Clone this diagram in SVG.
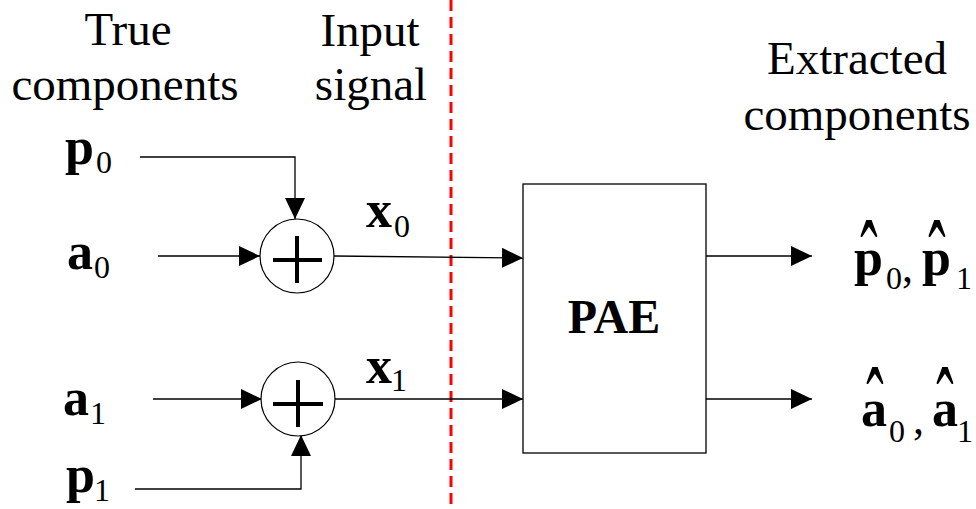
<svg xmlns="http://www.w3.org/2000/svg" width="976" height="509" viewBox="0 0 976 509" font-family="'Liberation Serif', 'Times New Roman', serif">
<style>
text{font-family:'Liberation Serif','Times New Roman',serif;fill:#000}
.lbl{font-size:47px;text-anchor:middle}
.m{font-size:52px;font-weight:bold}
.s{font-size:32px;font-weight:normal}
.hat{font-size:52px;font-weight:normal;text-anchor:middle}
.ln{fill:none;stroke:#000;stroke-width:1.3}
.sum{fill:#fff;stroke:#000;stroke-width:1.2}
.plus{stroke:#000;stroke-width:4;fill:none}
</style>
<defs>
<marker id="ah" markerUnits="userSpaceOnUse" markerWidth="22" markerHeight="20" refX="21" refY="10" orient="auto">
<path d="M0,0 L21,10 L0,20 z" fill="#000"/>
</marker>
</defs>
<rect width="976" height="509" fill="#fff"/>
<line x1="451" y1="0" x2="451" y2="509" stroke="#f00" stroke-width="3" stroke-dasharray="11 6"/>
<g id="headers">
<text class="lbl" x="128" y="45">True</text>
<text class="lbl" x="125" y="100">components</text>
<text class="lbl" x="370" y="46">Input</text>
<text class="lbl" x="371" y="100">signal</text>
<text class="lbl" x="857" y="74">Extracted</text>
<text class="lbl" x="857" y="130">components</text>
</g>
<g id="connectors">
<path class="ln" d="M140,157 H295 V219" marker-end="url(#ah)"/>
<path class="ln" d="M158,256 H260" marker-end="url(#ah)"/>
<path class="ln" d="M334,256 L523,258" marker-end="url(#ah)"/>
<path class="ln" d="M153,399 H262" marker-end="url(#ah)"/>
<path class="ln" d="M135,489 H301 V435" marker-end="url(#ah)"/>
<path class="ln" d="M334,399 H523" marker-end="url(#ah)"/>
<path class="ln" d="M706,256 H812" marker-end="url(#ah)"/>
<path class="ln" d="M706,399 H812" marker-end="url(#ah)"/>
</g>
<g id="in-p0"><text x="65" y="164"><tspan class="m">p</tspan><tspan class="s" x="96" y="173">0</tspan></text></g>
<g id="in-a0"><text x="67" y="269"><tspan class="m">a</tspan><tspan class="s" x="94" y="278">0</tspan></text></g>
<g id="in-a1"><text x="63" y="415"><tspan class="m">a</tspan><tspan class="s" x="90" y="424">1</tspan></text></g>
<g id="in-p1"><text x="66" y="492"><tspan class="m">p</tspan><tspan class="s" x="94" y="501">1</tspan></text></g>
<g id="sum0">
<circle class="sum" cx="297" cy="256" r="37"/>
<path class="plus" d="M273,260 H322 M297,236 V283"/>
</g>
<g id="sum1">
<circle class="sum" cx="298" cy="399" r="37"/>
<path class="plus" d="M273,404 H323 M298,380 V427"/>
</g>
<g id="sig-x0"><text x="366" y="227"><tspan class="m">x</tspan><tspan class="s" x="394" y="237">0</tspan></text></g>
<g id="sig-x1"><text x="366" y="383"><tspan class="m">x</tspan><tspan class="s" x="391" y="391">1</tspan></text></g>
<g id="pae">
<rect x="523" y="184" width="183" height="269" fill="#fff" stroke="#000" stroke-width="1.3"/>
<text x="614" y="333" style="font-size:48px;font-weight:bold;text-anchor:middle">PAE</text>
</g>
<g id="out-p">
<text x="854" y="275"><tspan class="m">p</tspan><tspan class="s" x="886" y="289">0</tspan><tspan class="s" x="902" y="282" style="font-size:44px">,</tspan><tspan class="m" x="922" y="275">p</tspan><tspan class="s" x="956" y="289">1</tspan></text>
<text class="hat" transform="translate(869,300) scale(1,2.2)">ˆ</text>
<text class="hat" transform="translate(937,300) scale(1,2.2)">ˆ</text>
</g>
<g id="out-a">
<text x="861" y="426"><tspan class="m">a</tspan><tspan class="s" x="889" y="442">0</tspan><tspan class="s" x="913" y="434" style="font-size:44px">,</tspan><tspan class="m" x="932" y="426">a</tspan><tspan class="s" x="957" y="442">1</tspan></text>
<text class="hat" transform="translate(875,447) scale(1,2.2)">ˆ</text>
<text class="hat" transform="translate(945,447) scale(1,2.2)">ˆ</text>
</g>
</svg>
